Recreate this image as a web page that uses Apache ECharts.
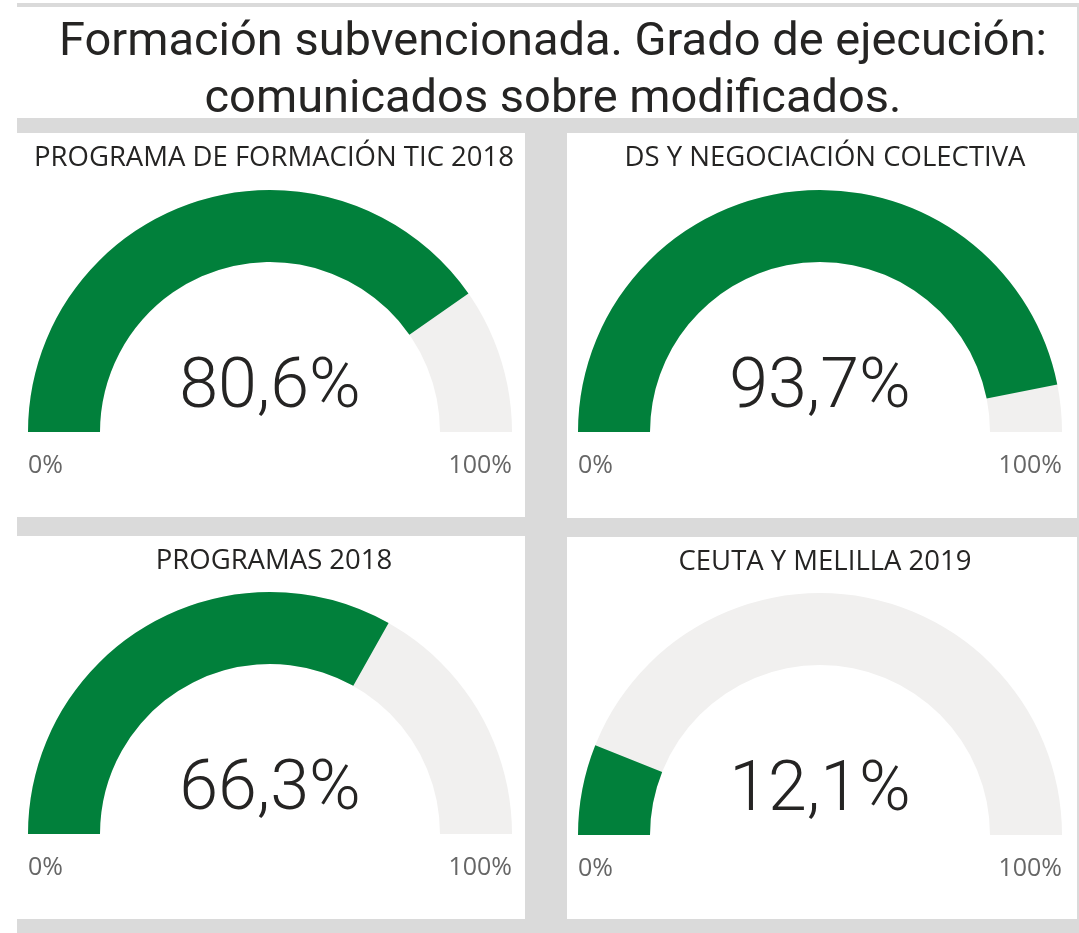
<!DOCTYPE html>
<html lang="es">
<head>
    <meta charset="UTF-8">
    <script src="https://cdn.jsdelivr.net/npm/echarts@6/dist/echarts.min.js"></script>
    <title>Formación subvencionada</title>
    <style>
        html, body { margin: 0; padding: 0; background: #ffffff; }
    </style>
</head>
<body>
    <div id="main" style="width: 1079px;height:933px;"></div>
</body>
<script type="text/javascript">
    // datos
    var mainTitle = 'Formación subvencionada. Grado de ejecución:\ncomunicados sobre modificados.';
    var panelTitles = ['PROGRAMA DE FORMACIÓN TIC 2018', 'DS Y NEGOCIACIÓN COLECTIVA', 'PROGRAMAS 2018', 'CEUTA Y MELILLA 2019'];
    var values = [80.6, 93.7, 66.3, 12.1];
    var axisMin = 0;
    var axisMax = 100;
    var tickLabels = ['0%', '100%'];

    // layout de los paneles (x, y, ancho, alto)
    var panels = [
        {x: 17, y: 133, w: 508, h: 384},
        {x: 567, y: 133, w: 510, h: 385},
        {x: 17, y: 536, w: 508, h: 383},
        {x: 567, y: 537, w: 510, h: 382}
    ];
    var gaugeR = 242, gaugeW = 72;
    var green = '#01803b', track = '#f1f0ef', band = '#dadada';

    var chart = echarts.init(document.getElementById('main'));

    var graphics = [
        // franjas grises
        {type: 'rect', shape: {x: 17, y: 3, width: 1062, height: 930}, style: {fill: band}, z: -10},
        {type: 'rect', shape: {x: 17, y: 7, width: 1060, height: 111}, style: {fill: '#fff'}, z: -5}
    ];
    var titles = [{
        text: mainTitle,
        left: 548, top: 10, textAlign: 'center',
        textStyle: {fontFamily: 'Roboto', fontWeight: 400, fontSize: 47, lineHeight: 57, color: '#252423'}
    }];
    var series = [];

    panels.forEach(function (p, i) {
        var cx = p.x + 253, cy = p.y + (i < 2 ? 299 : 298);
        graphics.push({type: 'rect', shape: {x: p.x, y: p.y, width: p.w, height: p.h}, style: {fill: '#fff'}, z: -5});
        titles.push({
            text: panelTitles[i],
            left: p.x + p.w / 2 - 2, top: p.y + 6, textAlign: 'center',
            textStyle: {fontFamily: 'Open Sans', fontWeight: 400, fontSize: 27.5, color: '#252423'}
        });
        graphics.push({type: 'text', x: cx - gaugeR, y: cy + 34,
            style: {text: tickLabels[0], fontFamily: 'Open Sans', fontSize: 25, fill: '#666666', align: 'left', verticalAlign: 'middle'}});
        graphics.push({type: 'text', x: cx + gaugeR, y: cy + 34,
            style: {text: tickLabels[1], fontFamily: 'Open Sans', fontSize: 25, fill: '#666666', align: 'right', verticalAlign: 'middle'}});
        series.push({
            type: 'gauge',
            center: [cx, cy],
            radius: gaugeR,
            startAngle: 180,
            endAngle: 0,
            min: axisMin,
            max: axisMax,
            axisLine: {lineStyle: {width: gaugeW, color: [[1, track]]}},
            progress: {show: true, width: gaugeW, itemStyle: {color: green}},
            pointer: {show: false},
            anchor: {show: false},
            axisTick: {show: false},
            splitLine: {show: false},
            axisLabel: {show: false},
            title: {show: false},
            detail: {
                offsetCenter: [0, -43],
                formatter: function (v) { return v.toFixed(1).replace('.', ',') + '%'; },
                fontFamily: 'Roboto', fontWeight: 300, fontSize: 70, color: '#252423'
            },
            data: [{value: values[i]}]
        });
    });

    chart.setOption({
        animation: false,
        title: titles,
        graphic: graphics,
        series: series
    });
</script>
</html>
